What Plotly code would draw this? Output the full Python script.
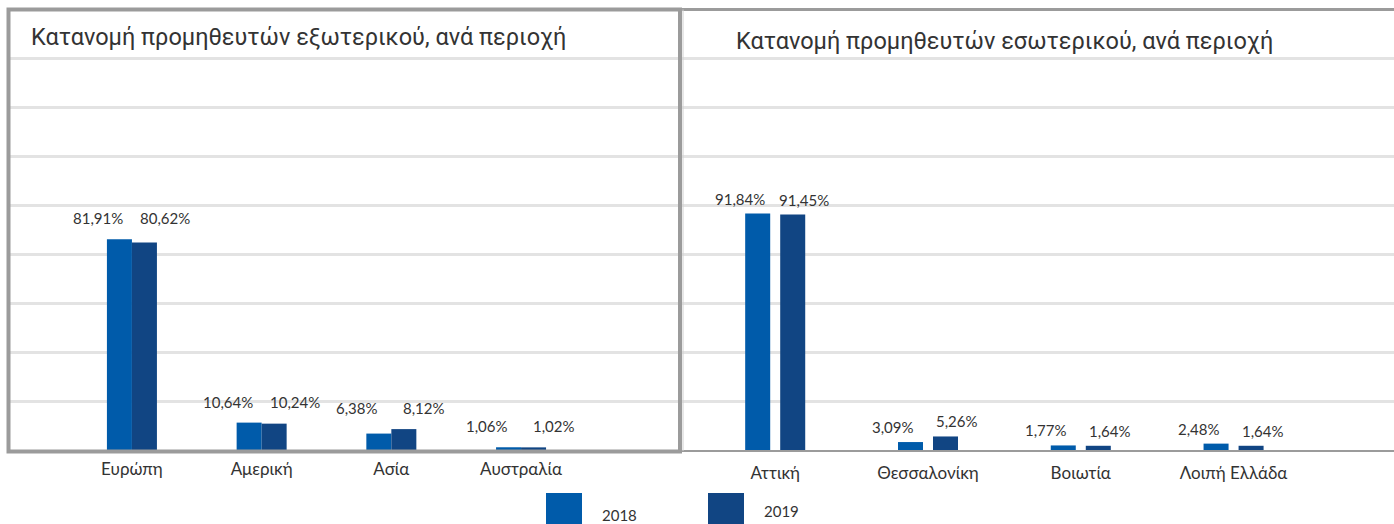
import plotly.graph_objects as go

# ---------------- data ----------------
foreign_regions = ["Ευρώπη", "Αμερική", "Ασία", "Αυστραλία"]
foreign_2018 = [81.91, 10.64, 6.38, 1.06]
foreign_2019 = [80.62, 10.24, 8.12, 1.02]

domestic_regions = ["Αττική", "Θεσσαλονίκη", "Βοιωτία", "Λοιπή Ελλάδα"]
domestic_2018 = [91.84, 3.09, 1.77, 2.48]
domestic_2019 = [91.45, 5.26, 1.64, 1.64]

series_names = ["2018", "2019"]
title_left = "Κατανομή προμηθευτών εξωτερικού, ανά περιοχή"
title_right = "Κατανομή προμηθευτών εσωτερικού, ανά περιοχή"

# ---------------- style ----------------
W, H = 1394, 524
C18 = "#005BAA"
C19 = "#114583"
TXT = "#333333"
GRID = "#e3e3e3"
BORDER = "#9b9b9b"
NUM_FONT = "Lato, Noto Sans, sans-serif"
TITLE_FONT = "Roboto, Noto Sans, sans-serif"

def px(x):
    return x / W

def py(y):
    return (H - y) / H

YMAX = 171.3
DT = 19

def fmt(v):
    return f"{v:.2f}".replace(".", ",") + "%"

fig = go.Figure()

# left panel: category spacing ~130px, bars 25px adjacent
lw = 25 / 129.7
fig.add_trace(go.Bar(x=foreign_regions, y=foreign_2018, name=series_names[0],
                     marker=dict(color=C18, line=dict(width=0)), width=lw, offset=-lw,
                     xaxis="x", yaxis="y", showlegend=False))
fig.add_trace(go.Bar(x=foreign_regions, y=foreign_2019, name=series_names[1],
                     marker=dict(color=C19, line=dict(width=0)), width=lw, offset=0,
                     xaxis="x", yaxis="y", showlegend=False))

# right panel: category spacing ~153px, bars 25px with 10px gap
rs = 152.7
rw = 25 / rs
rg = 10 / rs
fig.add_trace(go.Bar(x=domestic_regions, y=domestic_2018, name=series_names[0],
                     marker=dict(color=C18, line=dict(width=0)), width=rw, offset=-rw - rg / 2,
                     xaxis="x2", yaxis="y2", showlegend=False))
fig.add_trace(go.Bar(x=domestic_regions, y=domestic_2019, name=series_names[1],
                     marker=dict(color=C19, line=dict(width=0)), width=rw, offset=rg / 2,
                     xaxis="x2", yaxis="y2", showlegend=False))

annotations = []
# value labels, left: one row per group above the taller bar
for cat, a, b in zip(foreign_regions, foreign_2018, foreign_2019):
    top = max(a, b)
    for v, dx in ((a, -34), (b, 33)):
        annotations.append(dict(x=cat, y=top, xref="x", yref="y", text=fmt(v),
                                showarrow=False, xshift=dx, yshift=10, yanchor="bottom",
                                font=dict(family=NUM_FONT, size=15, color=TXT)))
# value labels, right: above each bar
for cat, a, b in zip(domestic_regions, domestic_2018, domestic_2019):
    for v, dx in ((a, -35), (b, 29)):
        annotations.append(dict(x=cat, y=v, xref="x2", yref="y2", text=fmt(v),
                                showarrow=False, xshift=dx, yshift=4, yanchor="bottom",
                                font=dict(family=NUM_FONT, size=15, color=TXT)))

# titles
annotations.append(dict(x=px(29), y=py(37), xref="paper", yref="paper", text=title_left,
                        showarrow=False, xanchor="left", yanchor="middle",
                        font=dict(family=TITLE_FONT, size=23.5, color=TXT)))
annotations.append(dict(x=px(734), y=py(41), xref="paper", yref="paper", text=title_right,
                        showarrow=False, xanchor="left", yanchor="middle",
                        font=dict(family=TITLE_FONT, size=23.5, color=TXT)))

# custom legend
leg = [(546, 515, C18, series_names[0]), (708, 511, C19, series_names[1])]
shapes = []
for x0, ty, col, name in leg:
    shapes.append(dict(type="rect", xref="paper", yref="paper",
                       x0=px(x0), x1=px(x0 + 36), y0=py(530), y1=py(493),
                       fillcolor=col, line=dict(width=0), layer="above"))
    annotations.append(dict(x=px(x0 + 54), y=py(ty), xref="paper", yref="paper", text=name,
                            showarrow=False, xanchor="left", yanchor="middle",
                            font=dict(family=NUM_FONT, size=15, color=TXT)))

# borders
shapes.append(dict(type="rect", xref="paper", yref="paper",
                   x0=px(8.5), x1=px(680), y0=py(451.5), y1=py(9.5),
                   line=dict(color=BORDER, width=4), fillcolor="rgba(0,0,0,0)", layer="above"))
shapes.append(dict(type="line", xref="paper", yref="paper",
                   x0=px(680), x1=1, y0=py(9.5), y1=py(9.5),
                   line=dict(color=BORDER, width=3), layer="above"))
shapes.append(dict(type="line", xref="paper", yref="paper",
                   x0=px(683), x1=px(683), y0=py(451), y1=py(9.5),
                   line=dict(color="#d0d0d0", width=1), layer="above"))

axis_common = dict(showgrid=False, zeroline=False, ticks="", showline=False,
                   tickfont=dict(family=NUM_FONT, size=17, color=TXT), ticklabelstandoff=7)
yaxis_common = dict(range=[0, YMAX], dtick=DT, tick0=0, showgrid=True, gridcolor=GRID,
                    gridwidth=2.5, zeroline=False, showticklabels=False, ticks="",
                    fixedrange=True)

fig.update_layout(
    width=W, height=H,
    margin=dict(l=0, r=0, t=0, b=0),
    paper_bgcolor="white", plot_bgcolor="white",
    barmode="group",
    showlegend=False,
    xaxis=dict(domain=[px(10), px(678)], range=[-0.94, 4.21], anchor="y", **axis_common),
    yaxis=dict(domain=[py(450), py(9)], anchor="x", **yaxis_common),
    xaxis2=dict(domain=[px(682), 1], range=[-0.61, 4.05], anchor="y2",
                **{**axis_common, "showline": True, "linecolor": BORDER, "linewidth": 2}),
    yaxis2=dict(domain=[py(450), py(9)], anchor="x2", **yaxis_common),
    annotations=annotations,
    shapes=shapes,
)

fig.write_html("out.html", config={"displayModeBar": False},
               post_script="document.body.style.margin='0';document.body.style.padding='0';document.body.style.overflow='hidden';")
